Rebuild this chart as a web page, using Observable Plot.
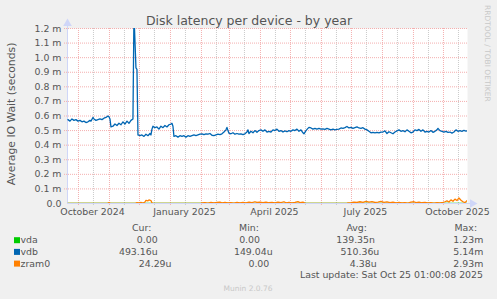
<!DOCTYPE html>
<html><head><meta charset="utf-8">
<script src="https://cdn.jsdelivr.net/npm/d3@7"></script>
<script src="https://cdn.jsdelivr.net/npm/@observablehq/plot@0.6"></script>
<style>
html,body{margin:0;padding:0;background:#F0F0F0;}
#chart{position:relative;width:497px;height:299px;overflow:hidden;background:#F0F0F0}
#chart svg{position:absolute;left:0;top:0;font-family:"DejaVu Sans",sans-serif}
</style></head><body><div id="chart"></div>
<script>
const title = "Disk latency per device - by year";
const yLabel = "Average IO Wait (seconds)";
const watermark = "RRDTOOL / TOBI OETIKER";
const lastUpdate = "Last update: Sat Oct 25 01:00:08 2025";
const footer = "Munin 2.0.76";

const startTime = "2024-09-20T01:00:00Z";
const endTime = "2025-10-25T01:00:00Z";

// y ticks (milliseconds) and labels
const yTickValues = [0, 0.1, 0.2, 0.3, 0.4, 0.5, 0.6, 0.7, 0.8, 0.9, 1.0, 1.1, 1.2];
const yTickLabels = ["0.0", "0.1 m", "0.2 m", "0.3 m", "0.4 m", "0.5 m", "0.6 m", "0.7 m", "0.8 m", "0.9 m", "1.0 m", "1.1 m", "1.2 m"];
const xTickDates = ["2024-10-15", "2025-01-15", "2025-04-15", "2025-07-15", "2025-10-15"];
const xTickLabels = ["October 2024", "January 2025", "April 2025", "July 2025", "October 2025"];

const series = ["vda", "vdb", "zram0"];
const seriesColors = ["#00CC00", "#0066B3", "#FF8000"];
const legendCur = ["0.00", "493.16u", "24.29u"];
const legendMin = ["0.00", "149.04u", "0.00"];
const legendAvg = ["139.35n", "510.36u", "4.38u"];
const legendMax = ["1.23m", "5.14m", "2.93m"];

// values in milliseconds
const vdaDates = ["2024-09-20", "2025-10-25"];
const vdaValues = [0, 0];

const vdbDates = [
"2024-09-20","2024-09-22","2024-09-24","2024-09-26","2024-09-28","2024-09-30","2024-10-02","2024-10-04","2024-10-06","2024-10-08",
"2024-10-10","2024-10-12","2024-10-13","2024-10-15","2024-10-16","2024-10-18","2024-10-20","2024-10-22","2024-10-24","2024-10-26",
"2024-10-28","2024-10-30","2024-10-31","2024-11-01","2024-11-02","2024-11-04","2024-11-06","2024-11-08","2024-11-10","2024-11-12",
"2024-11-14","2024-11-16","2024-11-18","2024-11-20","2024-11-22","2024-11-24","2024-11-25","2024-11-27","2024-11-28","2024-11-29",
"2024-12-01","2024-12-03","2024-12-05","2024-12-07","2024-12-09","2024-12-11","2024-12-12","2024-12-13","2024-12-14","2024-12-16",
"2024-12-18","2024-12-20","2024-12-22","2024-12-24","2024-12-26","2024-12-28","2024-12-30","2025-01-01","2025-01-02","2025-01-03",
"2025-01-04","2025-01-06","2025-01-08","2025-01-10","2025-01-12","2025-01-14","2025-01-16","2025-01-18","2025-01-20","2025-01-22",
"2025-01-24","2025-01-26","2025-01-28","2025-01-30","2025-02-01","2025-02-03","2025-02-05","2025-02-07","2025-02-09","2025-02-11",
"2025-02-13","2025-02-15","2025-02-17","2025-02-19","2025-02-21","2025-02-23","2025-02-25","2025-02-26","2025-02-27","2025-02-28",
"2025-03-02","2025-03-04","2025-03-06","2025-03-08","2025-03-10","2025-03-12","2025-03-14","2025-03-16","2025-03-18","2025-03-19",
"2025-03-20","2025-03-22","2025-03-24","2025-03-26","2025-03-28","2025-03-30","2025-04-01","2025-04-03","2025-04-05","2025-04-07",
"2025-04-09","2025-04-11","2025-04-13","2025-04-15","2025-04-17","2025-04-19","2025-04-21","2025-04-23","2025-04-25","2025-04-27",
"2025-04-29","2025-05-01","2025-05-03","2025-05-05","2025-05-07","2025-05-09","2025-05-11","2025-05-13","2025-05-14","2025-05-16",
"2025-05-18","2025-05-19","2025-05-21","2025-05-23","2025-05-25","2025-05-27","2025-05-29","2025-05-31","2025-06-02","2025-06-04",
"2025-06-06","2025-06-08","2025-06-10","2025-06-12","2025-06-14","2025-06-16","2025-06-18","2025-06-20","2025-06-22","2025-06-24",
"2025-06-26","2025-06-28","2025-06-30","2025-07-02","2025-07-04","2025-07-06","2025-07-08","2025-07-10","2025-07-12","2025-07-14",
"2025-07-16","2025-07-18","2025-07-20","2025-07-22","2025-07-24","2025-07-26","2025-07-28","2025-07-30","2025-08-01","2025-08-03",
"2025-08-05","2025-08-07","2025-08-09","2025-08-11","2025-08-13","2025-08-15","2025-08-17","2025-08-19","2025-08-21","2025-08-23",
"2025-08-25","2025-08-27","2025-08-29","2025-08-31","2025-09-02","2025-09-04","2025-09-06","2025-09-08","2025-09-10","2025-09-12",
"2025-09-14","2025-09-16","2025-09-18","2025-09-20","2025-09-22","2025-09-24","2025-09-25","2025-09-27","2025-09-29","2025-10-01",
"2025-10-03","2025-10-05","2025-10-07","2025-10-09","2025-10-11","2025-10-13","2025-10-15","2025-10-17","2025-10-19","2025-10-21",
"2025-10-23","2025-10-25"];
const vdbValues = [
0.575,0.565,0.58,0.57,0.575,0.565,0.57,0.56,0.565,0.555,
0.56,0.57,0.565,0.59,0.58,0.57,0.575,0.58,0.575,0.585,
0.59,0.60,0.595,0.58,0.525,0.53,0.545,0.535,0.55,0.54,
0.56,0.545,0.565,0.55,0.57,0.58,1.3,0.93,0.92,0.47,
0.465,0.47,0.46,0.475,0.465,0.48,0.47,0.51,0.53,0.52,
0.525,0.51,0.53,0.52,0.535,0.525,0.54,0.545,0.55,0.53,
0.46,0.465,0.455,0.465,0.46,0.465,0.455,0.465,0.46,0.465,
0.47,0.465,0.47,0.475,0.478,0.472,0.478,0.475,0.48,0.468,
0.465,0.47,0.475,0.472,0.478,0.49,0.505,0.522,0.5,0.482,
0.478,0.485,0.475,0.48,0.475,0.478,0.472,0.478,0.49,0.505,
0.48,0.495,0.485,0.5,0.488,0.5,0.505,0.495,0.505,0.49,
0.495,0.49,0.505,0.5,0.51,0.495,0.5,0.49,0.498,0.492,
0.5,0.495,0.505,0.5,0.51,0.495,0.505,0.485,0.478,0.5,
0.515,0.522,0.518,0.51,0.515,0.51,0.515,0.51,0.512,0.508,
0.515,0.51,0.505,0.51,0.505,0.508,0.51,0.518,0.515,0.52,
0.528,0.518,0.522,0.515,0.52,0.525,0.518,0.515,0.52,0.51,
0.505,0.495,0.485,0.488,0.485,0.488,0.485,0.49,0.49,0.498,
0.48,0.492,0.485,0.478,0.49,0.498,0.505,0.495,0.5,0.492,
0.505,0.495,0.485,0.49,0.505,0.5,0.508,0.495,0.505,0.49,
0.495,0.49,0.5,0.488,0.495,0.505,0.515,0.5,0.495,0.49,
0.495,0.488,0.49,0.483,0.49,0.505,0.495,0.5,0.495,0.502,
0.497,0.5];

const zramDates = [
"2024-09-20","2024-10-29","2024-10-31","2024-11-02","2024-11-26","2024-11-28","2024-11-30","2024-12-02","2024-12-04","2024-12-06",
"2024-12-07","2024-12-09","2024-12-10","2024-12-12","2024-12-13","2024-12-15","2025-01-30","2025-02-01","2025-02-04","2025-02-07",
"2025-02-10","2025-02-13","2025-02-16","2025-02-19","2025-02-21","2025-02-24","2025-02-27","2025-03-02","2025-03-05","2025-03-08",
"2025-03-11","2025-03-14","2025-03-17","2025-03-20","2025-03-23","2025-03-26","2025-03-28","2025-03-31","2025-04-03","2025-04-06",
"2025-04-09","2025-04-12","2025-04-15","2025-04-18","2025-04-21","2025-04-24","2025-04-26","2025-04-29","2025-05-02","2025-05-05",
"2025-05-08","2025-05-10","2025-05-13","2025-05-15","2025-05-17","2025-06-25","2025-06-27","2025-06-30","2025-07-03","2025-07-06",
"2025-07-09","2025-07-12","2025-07-15","2025-07-18","2025-07-21","2025-07-24","2025-07-27","2025-07-30","2025-08-02","2025-08-05",
"2025-08-08","2025-08-11","2025-08-14","2025-08-17","2025-08-20","2025-08-23","2025-08-26","2025-08-29","2025-09-01","2025-09-03",
"2025-09-06","2025-09-09","2025-09-12","2025-09-15","2025-09-18","2025-09-21","2025-09-24","2025-09-27","2025-09-30","2025-10-02",
"2025-10-04","2025-10-06","2025-10-08","2025-10-10","2025-10-12","2025-10-14","2025-10-16","2025-10-18","2025-10-20","2025-10-22",
"2025-10-24"];
const zramValues = [
0,0,0.006,0,0,0.006,0.004,0.007,0.003,0.01,
0.022,0.018,0.025,0.02,0.004,0,0,0.004,0.006,0.003,
0.008,0.004,0.007,0.01,0.005,0.008,0.004,0.006,0.003,0.007,
0.004,0.008,0.005,0.009,0.006,0.012,0.007,0.01,0.006,0.009,
0.005,0.007,0.004,0.01,0.006,0.012,0.005,0.008,0.004,0.007,
0.013,0.006,0.009,0.003,0,0,0.004,0.006,0.01,0.007,
0.012,0.008,0.015,0.009,0.013,0.007,0.01,0.014,0.008,0.011,
0.006,0.009,0.005,0.008,0.004,0.006,0.003,0.01,0.012,0.006,
0.009,0.005,0.007,0.004,0.006,0.003,0.005,0.004,0.008,0.012,
0.018,0.01,0.025,0.015,0.03,0.02,0.038,0.022,0.012,0.006,
0.02];

const parseDay = s => new Date(s + "T12:00:00Z");
const start = new Date(startTime), end = new Date(endTime);

const rows = [];
[[vdaDates, vdaValues], [vdbDates, vdbValues], [zramDates, zramValues]].forEach(([ds, vs], i) => {
  ds.forEach((d, j) => rows.push({series: series[i], date: parseDay(d), value: vs[j]}));
});

const yLabelMap = new Map(yTickValues.map((v, i) => [v, yTickLabels[i]]));
const xTicks = xTickDates.map(d => new Date(d + "T00:00:00Z"));
const xLabelMap = new Map(xTicks.map((d, i) => [+d, xTickLabels[i]]));

// major grid at month starts, minor grid at mid-month
const monthLines = d3.utcMonth.range(start, end);
const midMonthLines = d3.utcMonth.range(d3.utcMonth.offset(start, -1), end)
  .map(m => d3.utcDay.offset(m, 15)).filter(d => d > start && d < end);

const AXIS = "#CFD6F8";
const MGRID = "#F4AFAF";
const GRID = "#CACACA";

const plot = Plot.plot({
  width: 497, height: 222,
  marginLeft: 67, marginRight: 30, marginTop: 28, marginBottom: 19,
  style: {background: "transparent", fontFamily: "DejaVu Sans, sans-serif", fontSize: "9.4px", color: "#555"},
  x: {type: "utc", domain: [start, end]},
  y: {domain: [0, 1.2]},
  color: {domain: series, range: seriesColors},
  marks: [
    Plot.frame({fill: "white", stroke: null}),
    Plot.ruleX(midMonthLines, {stroke: GRID, strokeDasharray: "1,1", insetBottom: -2}),
    Plot.ruleX(monthLines, {stroke: MGRID, strokeDasharray: "1,1", insetBottom: -3}),
    Plot.ruleY(yTickValues.filter(v => v > 0), {stroke: MGRID, strokeDasharray: "1,1", insetLeft: -3}),
    Plot.axisY({ticks: yTickValues, tickFormat: d => yLabelMap.get(d), tickSize: 0, tickPadding: 6, fill: "#555", label: null}),
    Plot.axisX({ticks: xTicks, tickFormat: d => xLabelMap.get(+d), tickSize: 0, tickPadding: 5, fill: "#555", label: null}),
    Plot.ruleX([start], {stroke: AXIS, insetTop: -2}),
    Plot.ruleY([0], {stroke: AXIS, insetRight: -4}),
    Plot.dot([start], {x: d => d, y: () => 1.2, symbol: "triangle", r: 3.2, fill: AXIS, stroke: null, dy: -5}),
    Plot.dot([end], {x: d => d, y: () => 0, symbol: "triangle", r: 3.2, fill: AXIS, stroke: null, rotate: 90, dx: 5}),
    Plot.line(rows, {x: "date", y: "value", z: "series", stroke: "series", strokeWidth: 1.3, clip: true, curve: "linear"})
  ]
});
const chart = document.getElementById("chart");
chart.appendChild(plot);

// overlay text
const svg = d3.select(chart).append("svg").attr("width", 497).attr("height", 299)
  .style("font-family", "DejaVu Sans, sans-serif");
svg.append("text").attr("x", 249).attr("y", 25).attr("text-anchor", "middle")
  .attr("font-size", 12.5).attr("fill", "#555").text(title);
svg.append("text").attr("transform", "translate(15,114) rotate(-90)").attr("text-anchor", "middle")
  .attr("font-size", 10.8).attr("fill", "#555").text(yLabel);
svg.append("text").attr("transform", "translate(485,5) rotate(90)").attr("text-anchor", "start")
  .attr("font-size", 7.5).attr("fill", "#C8C8C8").text(watermark);

const lg = svg.append("g").attr("font-size", 9.4).attr("fill", "#555");
const headers = [["Cur:", 141.7], ["Min:", 249], ["Avg:", 356.7], ["Max:", 465.8]];
headers.forEach(([t, x]) => lg.append("text").attr("x", x).attr("y", 230.5).attr("text-anchor", "middle").text(t));
const rowY = [243.2, 254.9, 266.6];
const curX = [157.7, 157.7, 171.5], minX = [260, 272.7, 269.3], avgX = [375, 379.3, 376.7], maxX = [483.3, 483.3, 483.3];
series.forEach((s, i) => {
  lg.append("rect").attr("x", 14).attr("y", rowY[i] - 6).attr("width", 6).attr("height", 6).attr("fill", seriesColors[i]);
  lg.append("text").attr("x", 20.5).attr("y", rowY[i]).text(s);
  lg.append("text").attr("x", curX[i]).attr("y", rowY[i]).attr("text-anchor", "end").text(legendCur[i]);
  lg.append("text").attr("x", minX[i]).attr("y", rowY[i]).attr("text-anchor", "end").text(legendMin[i]);
  lg.append("text").attr("x", avgX[i]).attr("y", rowY[i]).attr("text-anchor", "end").text(legendAvg[i]);
  lg.append("text").attr("x", maxX[i]).attr("y", rowY[i]).attr("text-anchor", "end").text(legendMax[i]);
});
lg.append("text").attr("x", 483).attr("y", 278.3).attr("text-anchor", "end").text(lastUpdate);
svg.append("text").attr("x", 248).attr("y", 291).attr("text-anchor", "middle")
  .attr("font-size", 7.5).attr("fill", "#C8C8C8").text(footer);
</script></body></html>
